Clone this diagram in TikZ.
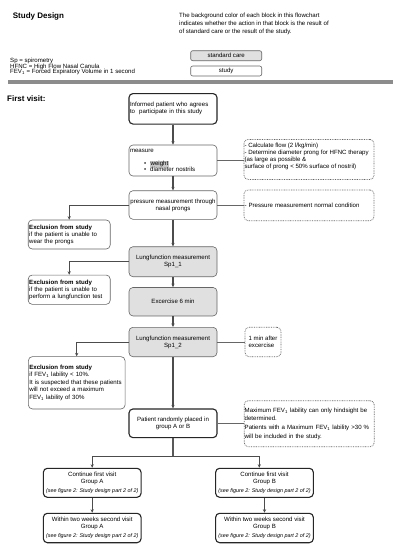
\documentclass[tikz,border=0pt]{standalone}
\usepackage{fontspec}
\setmainfont{Liberation Sans}
\usetikzlibrary{arrows.meta}
\newcommand{\myfs}{\fontsize{6.1}{7}\selectfont}
\newcommand{\mysm}{\fontsize{5.4}{6}\selectfont\itshape}
\begin{document}
\begin{tikzpicture}[x=1pt,y=-1pt,
 base/.style={rounded corners=4pt, inner sep=1pt, font=\myfs, align=center},
 thinbox/.style={base, draw=black!60, line width=0.6pt},
 thickbox/.style={base, draw=black!85, line width=1.1pt},
 stdbox/.style={thinbox, fill=black!12},
 note/.style={base, draw=black!60, dash pattern={on 0.8pt off 0.9pt}, line width=0.7pt},
 plain/.style={inner sep=0pt, font=\myfs, align=left},
 head/.style={inner sep=0pt, font=\fontsize{8}{9.6}\selectfont\bfseries},
 grp/.style={thickbox, minimum width=97.7, font=\fontsize{6.1}{6.8}\selectfont},
 arr/.style={-{Stealth[length=3.5pt,width=3.2pt]}, draw=black!70, line width=1.1pt},
 sarr/.style={-{Stealth[length=3.5pt,width=3.2pt]}, draw=black!70, line width=0.7pt},
 link/.style={draw=black!60, line width=0.6pt},
 trunk/.style={draw=black!65, line width=1.1pt}]

\useasboundingbox (0,0) rectangle (401,550);
\fill[white] (0,0) rectangle (401,550);

% header
\node[head, anchor=west] (title) at (12.7,16) {Study Design};
\node[plain, anchor=west, font=\fontsize{6.1}{8}\selectfont] (expl) at (179,24.3) {The background color of each block in this flowchart\\indicates whether the action in that block is the result of\\of standard care or the result of the study.};
\node[stdbox, rounded corners=2pt, minimum width=71, minimum height=10] (std) at (226.2,55.7) {standard care};
\node[thinbox, rounded corners=2pt, minimum width=71, minimum height=10] (stu) at (226.2,71) {study};
\node[plain, anchor=west, font=\fontsize{6.1}{5.8}\selectfont] (abbr) at (10,66.5) {Sp = spirometry\\HFNC = High Flow Nasal Canula\\FEV\textsubscript{1} = Forced Expiratory Volume in 1 second};

\draw[black!45, line width=3.5pt] (8,81.8) -- (393,81.8);

\node[head, anchor=west] (fv) at (7,99) {First visit:};

% main column
\node[thickbox, text width=86, minimum height=30.5, align=left] (b1) at (173,108.8) {Informed patient who agrees\\to\ \ participate in this study};
\node[thinbox, text width=86, minimum height=31, align=left] (b2) at (173,160.5) {measure\\[6.5pt]\hspace*{14pt}\textbullet\hspace{4pt}{\setlength{\fboxsep}{0.5pt}\colorbox{black!22}{weight}}\\[-1pt]\hspace*{14pt}\textbullet\hspace{4pt}diameter nostrils};
\node[thinbox, minimum width=88, minimum height=28.6] (b3) at (173,205) {pressure measurement through\\nasal prongs};
\node[stdbox, minimum width=88, minimum height=30] (b4) at (173,261.7) {Lungfunction measurement\\Sp1\_1};
\node[stdbox, minimum width=88, minimum height=28.5] (b5) at (173,301.7) {Excercise 6 min};
\node[stdbox, minimum width=88, minimum height=29.4] (b6) at (173,342) {Lungfunction measurement\\Sp1\_2};
\node[thickbox, minimum width=88, minimum height=28.7] (b7) at (173,423.3) {Patient randomly placed in\\group A or B};

% notes
\node[note, minimum width=130, minimum height=40] (d1) at (309,159.4) {};
\node[plain, anchor=north west] (d1t) at ([xshift=0.7pt,yshift=-4.2pt]d1.north west) {- Calculate flow (2 l/kg/min)\\- Determine diameter prong for HFNC therapy\\(as large as possible \&\\surface of prong < 50\% surface of nostril)};
\node[note, text width=129, inner sep=0.5pt, minimum height=30.7, align=left] (d2) at (309,205.3) {- Pressure measurement normal condition};
\node[note, minimum width=36, minimum height=29.4, align=left] (d3) at (263,342) {1 min after\\excercise};
\node[note, text width=129, inner sep=0.5pt, minimum height=46, align=left, font=\fontsize{6.1}{8.6}\selectfont] (d4) at (309.2,423.7) {Maximum FEV\textsubscript{1} lability can only hindsight be\\determined.\\Patients with a Maximum FEV\textsubscript{1} lability >30 \%\\will be included in the study.};

% exclusions
\node[thinbox, text width=80, minimum height=29, align=left] (e1) at (69.2,234.5) {\textbf{Exclusion from study}\\if the patient is unable to\\wear the prongs};
\node[thinbox, text width=80, minimum height=29.3, align=left] (e2) at (69.2,289.7) {\textbf{Exclusion from study}\\if the patient is unable to\\perform a lungfunction test};
\node[thinbox, text width=94.7, minimum height=52.3, align=left, font=\fontsize{6.1}{7.6}\selectfont] (e3) at (76.7,382.8) {\textbf{Exclusion from study}\\if FEV\textsubscript{1} lability < 10\%.\\It is suspected that these patients\\will not exceed a maximum\\FEV\textsubscript{1} lability of 30\%};

% groups
\node[grp, minimum height=29] (ca) at (92.2,482.8) {Continue first visit\\Group A\\[2pt]{\mysm (see figure 2: Study design part 2 of 2)}};
\node[grp, minimum height=29] (cb) at (264.5,482.8) {Continue first visit\\Group B\\[2pt]{\mysm (see figure 2: Study design part 2 of 2)}};
\node[grp, minimum height=29.4] (wa) at (92.2,528) {Within two weeks second visit\\Group A\\[2pt]{\mysm (see figure 2: Study design part 2 of 2)}};
\node[grp, minimum height=29.4] (wb) at (264.5,528) {Within two weeks second visit\\Group B\\[2pt]{\mysm (see figure 2: Study design part 2 of 2)}};

% connectors
\draw[arr] (b1.south) -- (b2.north);
\draw[arr] (b2.south) -- (b3.north);
\draw[arr] (b3.south) -- (b4.north);
\draw[arr] (b4.south) -- (b5.north);
\draw[arr] (b5.south) -- (b6.north);
\draw[arr] (b6.south) -- (b7.north);
\draw[link] (b2.east) -- (b2.east -| d1.west);
\draw[link] (b3.east) -- (b3.east -| d2.west);
\draw[link] (b6.east) -- (b6.east -| d3.west);
\draw[link] (b7.east) -- (b7.east -| d4.west);
\draw[sarr] (b3.west) -| (e1.north);
\draw[sarr] (b4.west) -| (e2.north);
\draw[sarr] (b6.west) -| (e3.north);
\coordinate (split) at (173,456.7);
\draw[trunk] (b7.south) -- (split);
\draw[sarr] (split) -| (ca.north);
\draw[sarr] (split) -| ([xshift=-5.2pt]cb.north);
\draw[sarr] (ca.south) -- (wa.north);
\draw[arr] (cb.south) -- (wb.north);
\end{tikzpicture}
\end{document}
